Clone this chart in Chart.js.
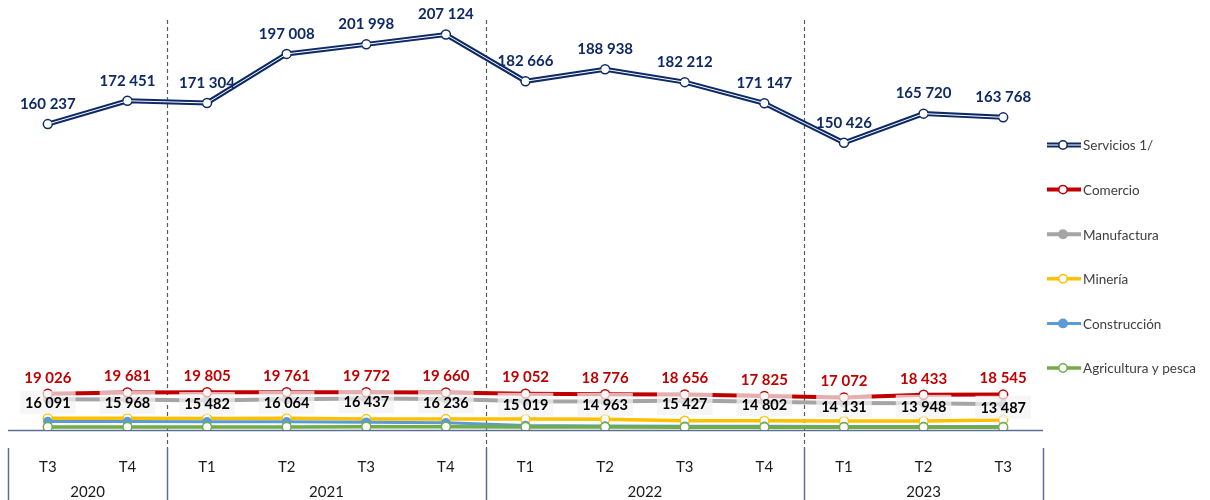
<!DOCTYPE html>
<html><head><meta charset="utf-8">
<script src="https://cdn.jsdelivr.net/npm/chart.js@4.4.1/dist/chart.umd.min.js"></script>
<style>html,body{margin:0;padding:0;background:#fff}</style>
</head><body>
<canvas id="c" width="1210" height="500"></canvas>
<script>
const quarters = ['T3','T4','T1','T2','T3','T4','T1','T2','T3','T4','T1','T2','T3'];
const years = ['2020','2020','2021','2021','2021','2021','2022','2022','2022','2022','2023','2023','2023'];
const servicios = [160237,172451,171304,197008,201998,207124,182666,188938,182212,171147,150426,165720,163768];
const comercio = [19026,19681,19805,19761,19772,19660,19052,18776,18656,17825,17072,18433,18545];
const manufactura = [16091,15968,15482,16064,16437,16236,15019,14963,15427,14802,14131,13948,13487];
const mineria = [6100,6100,6000,6100,5700,5700,5700,5600,4900,4900,4700,4700,5200];
const construccion = [4400,4400,4300,4300,4100,3800,2300,2100,2000,1900,1800,1800,1800];
const agricultura = [1600,1600,1600,1600,1700,1700,1600,1600,1500,1500,1500,1500,1500];
const seriesNames = ['Servicios 1/','Comercio','Manufactura','Minería','Construcción','Agricultura y pesca'];

const NAVY='#0e2a66', RED='#c00000', GRAY='#a5a5a5', YEL='#ffc000', BLUE='#5b9bd5', GREEN='#70ad47';
const fmt = v => String(v).replace(/\B(?=(\d{3})+(?!\d))/g,' ');

function ds(label, data, color, width, fill, order, radius){
  return {label, data, borderColor:color, borderWidth:width, backgroundColor:fill,
    pointBackgroundColor:fill, pointBorderColor:color, pointBorderWidth:1.5,
    pointRadius:radius, tension:0, order, fill:false};
}

const legendStyle = [
  {color:NAVY, w:5, fill:'#fff', dbl:true},
  {color:RED, w:4, fill:'#fff'},
  {color:GRAY, w:4, fill:GRAY},
  {color:YEL, w:3.5, fill:'#fff'},
  {color:BLUE, w:3, fill:BLUE},
  {color:GREEN, w:3.5, fill:'#fff'}
];

const decor = {
  id:'decor',
  beforeDatasetsDraw(chart){
    const {ctx, chartArea:a, scales:{x}} = chart;
    ctx.save();
    const n = quarters.length;
    const bounds = [a.left];
    for(let i=1;i<n;i++){ if(years[i]!==years[i-1]) bounds.push((x.getPixelForValue(i-1)+x.getPixelForValue(i))/2); }
    bounds.push(a.right);
    ctx.strokeStyle='#595959'; ctx.lineWidth=1.2; ctx.setLineDash([4,3]);
    for(let k=1;k<bounds.length-1;k++){
      const bx=Math.round(bounds[k])+0.5;
      ctx.beginPath(); ctx.moveTo(bx,20); ctx.lineTo(bx,448); ctx.stroke();
    }
    ctx.setLineDash([]);
    ctx.strokeStyle='#5a6e99'; ctx.lineWidth=1.5;
    bounds.forEach(b=>{const bx=Math.round(b)+0.5; ctx.beginPath(); ctx.moveTo(bx,448); ctx.lineTo(bx,500); ctx.stroke();});
    ctx.beginPath(); ctx.moveTo(a.left,a.bottom+0.5); ctx.lineTo(a.right,a.bottom+0.5); ctx.stroke();
    ctx.fillStyle='#1a1a1a'; ctx.font='15px Lato'; ctx.textAlign='center'; ctx.textBaseline='middle';
    quarters.forEach((q,i)=>ctx.fillText(q, x.getPixelForValue(i), 467));
    let s=0;
    for(let i=1;i<=n;i++){
      if(i===n || years[i]!==years[s]){
        const l = s===0? a.left : (x.getPixelForValue(s-1)+x.getPixelForValue(s))/2;
        const r = i===n? a.right : (x.getPixelForValue(i-1)+x.getPixelForValue(i))/2;
        ctx.fillText(years[s], (l+r)/2, 492);
        s=i;
      }
    }
    ctx.restore();
  },
  afterDatasetsDraw(chart){
    const {ctx, scales:{x,y}} = chart;
    ctx.save();
    ctx.textAlign='center'; ctx.textBaseline='middle';
    ctx.font='bold 14.5px Lato';
    manufactura.forEach((v,i)=>{
      const px=x.getPixelForValue(i), py=y.getPixelForValue(v)+3;
      const t=fmt(v), w=ctx.measureText(t).width+10;
      ctx.fillStyle='rgba(242,242,242,0.72)';
      ctx.fillRect(px-w/2, py-11.5, w, 23);
      ctx.fillStyle='#000';
      ctx.fillText(t, px, py+1);
    });
    ctx.font='bold 15px Lato'; ctx.fillStyle=RED;
    comercio.forEach((v,i)=>ctx.fillText(fmt(v), x.getPixelForValue(i), y.getPixelForValue(v)-16));
    ctx.font='bold 15px Lato'; ctx.fillStyle=NAVY;
    servicios.forEach((v,i)=>ctx.fillText(fmt(v), x.getPixelForValue(i), y.getPixelForValue(v)-20));
    ctx.font='13.5px Lato'; ctx.textAlign='left';
    seriesNames.forEach((name,k)=>{
      const st=legendStyle[k], ly=145+k*44.6;
      ctx.strokeStyle=st.color; ctx.lineWidth=st.w;
      ctx.beginPath(); ctx.moveTo(1047,ly); ctx.lineTo(1081,ly); ctx.stroke();
      if(st.dbl){ctx.strokeStyle='#fff'; ctx.lineWidth=1; ctx.beginPath(); ctx.moveTo(1047,ly); ctx.lineTo(1081,ly); ctx.stroke();}
      ctx.beginPath(); ctx.arc(1063,ly,4.2,0,Math.PI*2);
      ctx.fillStyle=st.fill; ctx.fill(); ctx.strokeStyle=st.color; ctx.lineWidth=1.5; ctx.stroke();
      ctx.fillStyle='#404040'; ctx.fillText(name, 1083, ly+1);
    });
    ctx.restore();
  }
};

new Chart(document.getElementById('c'), {
  type:'line',
  data:{
    labels: quarters,
    datasets:[
      ds('Servicios 1/', servicios, '#ffffff', 1, '#ffffff', 1, 0),
      ds('Servicios 1/', servicios, NAVY, 5, '#ffffff', 2, 4.5),
      ds('Comercio', comercio, RED, 4, '#ffffff', 3, 4.5),
      ds('Manufactura', manufactura, GRAY, 4, GRAY, 4, 4),
      ds('Agricultura y pesca', agricultura, GREEN, 3.5, '#ffffff', 5, 4.5),
      ds('Construcción', construccion, BLUE, 3, BLUE, 6, 4),
      ds('Minería', mineria, YEL, 3.5, '#ffffff', 7, 4.5)
    ]
  },
  options:{
    responsive:false, animation:false, events:[],
    layout:{padding:{left:8,right:167,top:10,bottom:70}},
    plugins:{legend:{display:false}, tooltip:{enabled:false}},
    scales:{
      x:{display:false, offset:true},
      y:{display:false, min:0, max:220000}
    }
  },
  plugins:[decor]
});
</script>
</body></html>
